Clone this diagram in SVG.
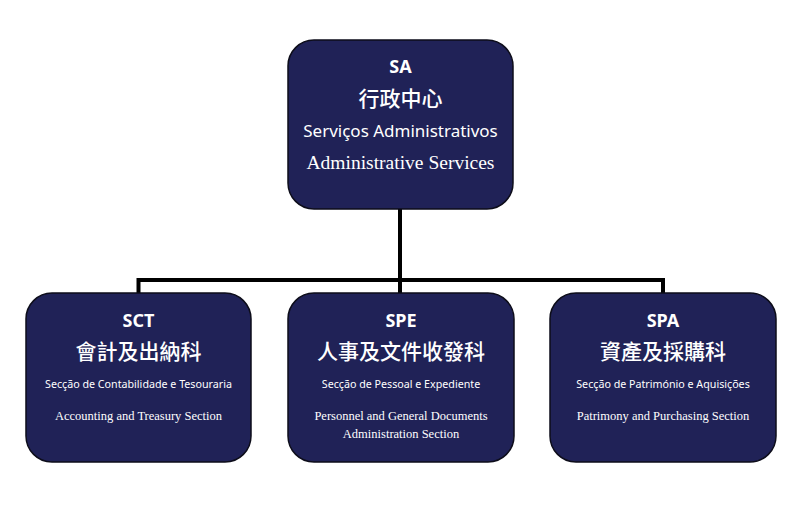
<svg xmlns="http://www.w3.org/2000/svg" width="809" height="505" viewBox="0 0 809 505">
<style>
.box{fill:#202257;stroke:#0d0d1a;stroke-width:1.5}
.conn{fill:none;stroke:#000;stroke-width:4}
text{fill:#fff;text-anchor:middle}
.abbr{font-family:"Noto Sans","Liberation Sans",sans-serif;font-weight:bold;font-size:18px}
.cjk{font-family:"Noto Sans CJK TC","Noto Sans",sans-serif;font-size:21px;font-weight:500}
.pt{font-family:"Noto Sans","Liberation Sans",sans-serif;font-size:10.7px}
.en{font-family:"Liberation Serif",serif;font-size:12.5px}
.ptL{font-family:"Noto Sans","Liberation Sans",sans-serif;font-size:17px}
.enL{font-family:"Liberation Serif",serif;font-size:19.5px}
</style>
<rect width="809" height="505" fill="#fff"/>
<g id="connectors">
<path class="conn" d="M400 209 V293"/>
<path class="conn" d="M138.5 293 V280 H663 V293"/>
</g>
<g id="SA">
<rect class="box" x="288" y="40" width="225" height="169" rx="26"/>
<text class="abbr" x="400.5" y="73">SA</text>
<text class="cjk" x="400.5" y="106">行政中心</text>
<text class="ptL" x="400.5" y="137">Serviços Administrativos</text>
<text class="enL" x="400.5" y="169">Administrative Services</text>
</g>
<g id="SCT">
<rect class="box" x="26" y="293" width="225" height="169" rx="26"/>
<text class="abbr" x="138.5" y="327">SCT</text>
<text class="cjk" x="138.5" y="359">會計及出納科</text>
<text class="pt" x="138.5" y="388">Secção de Contabilidade e Tesouraria</text>
<text class="en" x="138.5" y="420">Accounting and Treasury Section</text>
</g>
<g id="SPE">
<rect class="box" x="288" y="293" width="226" height="169" rx="26"/>
<text class="abbr" x="401" y="327">SPE</text>
<text class="cjk" x="401" y="359">人事及文件收發科</text>
<text class="pt" x="401" y="388">Secção de Pessoal e Expediente</text>
<text class="en" x="401" y="420">Personnel and General Documents</text>
<text class="en" x="401" y="438">Administration Section</text>
</g>
<g id="SPA">
<rect class="box" x="550" y="293" width="226" height="169" rx="26"/>
<text class="abbr" x="663" y="327">SPA</text>
<text class="cjk" x="663" y="359">資產及採購科</text>
<text class="pt" x="663" y="388">Secção de Património e Aquisições</text>
<text class="en" x="663" y="420">Patrimony and Purchasing Section</text>
</g>
</svg>
